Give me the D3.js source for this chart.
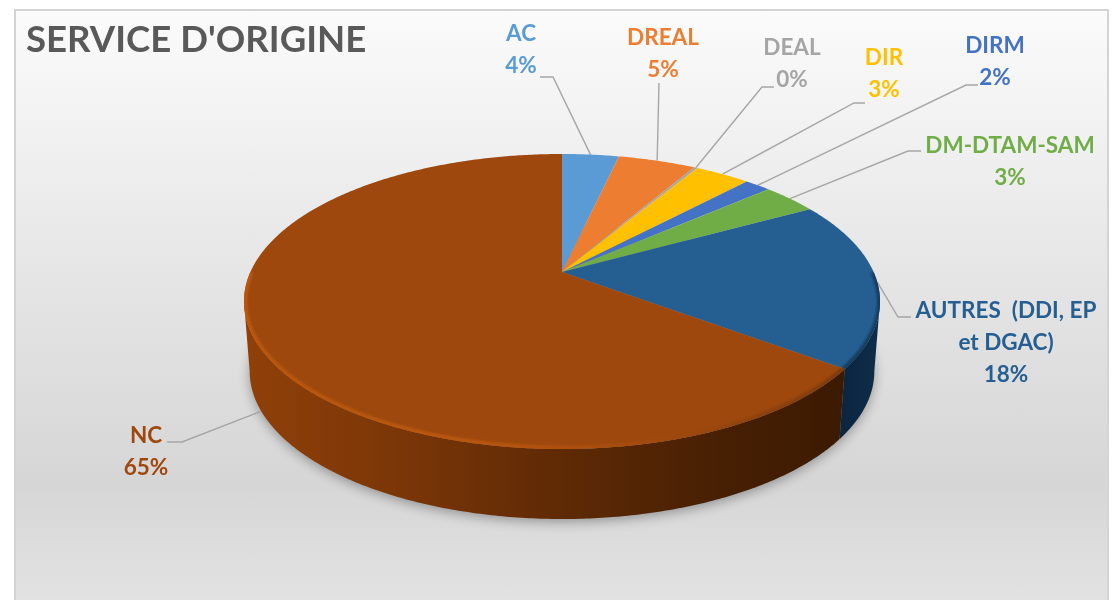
<!DOCTYPE html>
<html>
<head>
<meta charset="utf-8">
<script src="https://cdn.jsdelivr.net/npm/d3@7"></script>
<style>
  html, body { margin: 0; padding: 0; background: #fff; overflow: hidden; }
  svg { display: block; filter: blur(0.45px); }
  text { font-family: Lato, "Open Sans", sans-serif; font-weight: 700; }
</style>
</head>
<body>
<svg id="chart" width="1115" height="600"></svg>
<script>
const categories = ["AC", "DREAL", "DEAL", "DIR", "DIRM", "DM-DTAM-SAM", "AUTRES  (DDI, EP|et DGAC)", "NC"];
// the labels show them rounded
const values = [3.5, 4.8, 0.2, 3.4, 1.6, 3.4, 18.4, 64.7];
const colors = ["#5b9bd5", "#ed7d31", "#a5a5a5", "#ffc000", "#4472c4", "#70ad47", "#255e91", "#9e480e"];

// label centre, y of the first line, and where the leader leaves the label
const labelX = [521, 663, 792, 884, 995, 1010, 1006, 146];
const labelY = [41, 45, 55, 65, 53, 153, 318, 443];
const elbowStart = [540, 659, 774, 865, 978, 921, 911, 167];
const elbowEnd = [553, 659, 762, 854, 966, 908, 898, 182];
const elbowY = [77, 83, 87, 103, 85, 151, 317, 442];
const anchorDepth = [0, 0, 0, 0, 0, 0, 0, 1];

const width = 1115;
const height = 600;
const lineGap = 32;

// perspective pie: apex is not the centre of the ellipse
const cx = 562, cy = 272;
const rx = 311.6, ry = 141.6, tilt = 0.2;
const depth = 70;

function project(angle, z) {
  const u = Math.sin(angle), v = -Math.cos(angle);
  const w = 1 - tilt * v;
  const shrink = 1 - 0.018 * z;
  return [cx + rx * u / w * shrink, cy + ry * v / w + depth * z];
}

const line = d3.line();
const step = 0.01;

function rimPoints(a0, a1, z) {
  const pts = d3.range(a0, a1, step).map(a => project(a, z));
  pts.push(project(a1, z));
  return pts;
}

function wallPath(a0, a1) {
  return line(rimPoints(a0, a1, 0).concat(rimPoints(a0, a1, 1).reverse())) + "Z";
}

const svg = d3.select("#chart");
const defs = svg.append("defs");

function linear(id, dir, stops) {
  const g = defs.append("linearGradient").attr("id", id)
    .attr("gradientUnits", "userSpaceOnUse")
    .attr("x1", dir[0]).attr("y1", dir[1]).attr("x2", dir[2]).attr("y2", dir[3]);
  stops.forEach(s => g.append("stop").attr("offset", s[0]).attr("stop-color", s[1]));
}

linear("panelFill", [0, 10, 0, 600], [[0, "#fbfbfb"], [0.5, "#e3e3e3"], [0.8, "#d6d6d6"], [1, "#e2e2e2"]]);
linear("wallFill", [250, 0, 845, 0], [[0, "#8f4009"], [0.25, "#7b3607"], [0.52, "#5f2a05"], [0.78, "#482003"], [1, "#3b1a02"]]);
linear("rimFill", [244, 0, 845, 0], [[0, "#b9560f"], [0.4, "#b9560f"], [0.7, "#a04a0c"], [1, "#7d3a08"]]);
linear("blueWall", [845, 0, 880, 0], [[0, "#0c2640"], [1, "#0e2c4a"]]);

defs.append("filter").attr("id", "soft").attr("x", "-10%").attr("y", "-10%").attr("width", "120%").attr("height", "120%")
  .append("feGaussianBlur").attr("stdDeviation", 6);
defs.append("filter").attr("id", "edge").attr("x", "-10%").attr("y", "-10%").attr("width", "120%").attr("height", "120%")
  .append("feGaussianBlur").attr("stdDeviation", 1.2);
defs.append("clipPath").attr("id", "topFace")
  .append("path").attr("d", line(rimPoints(0, 2 * Math.PI, 0)) + "Z");

svg.append("rect")
  .attr("x", 15).attr("y", 10).attr("width", 1093).attr("height", 600)
  .attr("fill", "url(#panelFill)")
  .attr("stroke", "#d4d4d4").attr("stroke-width", 2);

svg.append("text")
  .attr("x", 26).attr("y", 52)
  .attr("font-size", 36.6)
  .attr("fill", "#595959")
  .text("SERVICE D'ORIGINE");

const arcs = d3.pie().sort(null).startAngle(0).endAngle(2 * Math.PI)(values);
const boundary = arcs[6].endAngle;   // AUTRES / NC, the only joint seen on the wall

// shadow under the pie
svg.append("path")
  .attr("d", line(rimPoints(0, 2 * Math.PI, 1).map(p => [p[0], p[1] + 3])) + "Z")
  .attr("fill", "#000")
  .attr("opacity", 0.32)
  .attr("filter", "url(#soft)");

// leaders run under the pie
svg.append("g").selectAll("path")
  .data(arcs)
  .join("path")
  .attr("fill", "none")
  .attr("stroke", "#a6a6a6")
  .attr("stroke-width", 1.4)
  .attr("d", (d, i) => line([
    [elbowStart[i], elbowY[i]],
    [elbowEnd[i], elbowY[i]],
    project((d.startAngle + d.endAngle) / 2, anchorDepth[i])
  ]));

// visible side wall, between the two widest points of the ellipse
const rightEdge = Math.PI * 0.564;
const leftEdge = Math.PI * 1.436;
svg.append("path").attr("d", wallPath(rightEdge, boundary)).attr("fill", "url(#blueWall)");
svg.append("path").attr("d", wallPath(boundary, leftEdge)).attr("fill", "url(#wallFill)");

// top face
svg.append("g").selectAll("path")
  .data(arcs)
  .join("path")
  .attr("fill", d => colors[d.index])
  .attr("d", d => line([[cx, cy]].concat(rimPoints(d.startAngle, d.endAngle, 0))) + "Z");

// bevel along the rim, kept inside the top face
const bevel = svg.append("g").attr("clip-path", "url(#topFace)");
bevel.append("path")
  .attr("d", line(rimPoints(boundary, Math.PI * 1.5, 0)))
  .attr("fill", "none")
  .attr("stroke", "url(#rimFill)")
  .attr("stroke-width", 7)
  .attr("filter", "url(#edge)");
bevel.append("path")
  .attr("d", line(rimPoints(Math.PI * 0.5, boundary, 0)))
  .attr("fill", "none")
  .attr("stroke", "#143a5e")
  .attr("stroke-width", 6)
  .attr("filter", "url(#edge)");

// labels
const labels = svg.append("g").selectAll("text")
  .data(arcs)
  .join("text")
  .attr("text-anchor", "middle")
  .attr("font-size", 22.5)
  .attr("fill", d => colors[d.index]);

labels.each(function(d, i) {
  const rows = categories[i].split("|").concat(Math.round(d.value) + "%");
  d3.select(this).selectAll("tspan")
    .data(rows)
    .join("tspan")
    .attr("x", labelX[i])
    .attr("y", (r, j) => labelY[i] + j * lineGap)
    .attr("xml:space", "preserve")
    .text(r => r);
});
</script>
</body>
</html>
